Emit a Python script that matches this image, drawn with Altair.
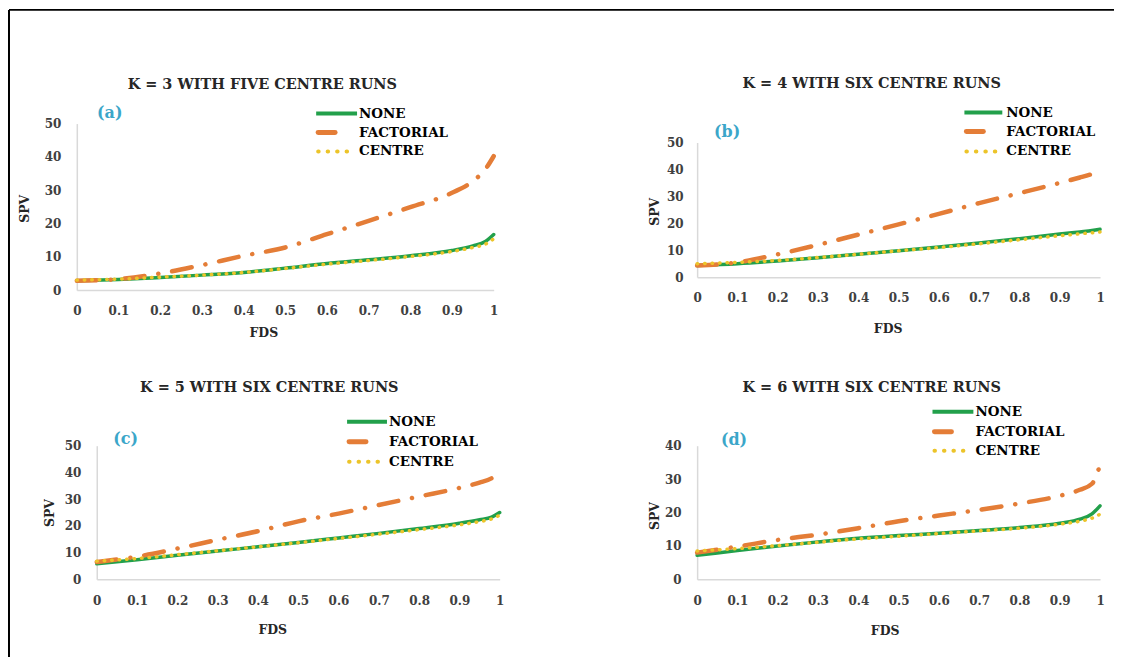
import altair as alt
import pandas as pd

# ---------------- data ----------------
FDS = [0, 0.1, 0.2, 0.3, 0.4, 0.5, 0.6, 0.7, 0.8, 0.9, 0.95, 0.98, 1.0]
X_TICKS = [0, 0.1, 0.2, 0.3, 0.4, 0.5, 0.6, 0.7, 0.8, 0.9, 1]
Y_TICKS_50 = [0, 10, 20, 30, 40, 50]
Y_TICKS_40 = [0, 10, 20, 30, 40]
SERIES = ["NONE", "FACTORIAL", "CENTRE"]
TITLES = ["K = 3 WITH FIVE CENTRE RUNS", "K = 4 WITH SIX CENTRE RUNS",
          "K = 5 WITH SIX CENTRE RUNS", "K = 6 WITH SIX CENTRE RUNS"]
PANEL_LABELS = ["(a)", "(b)", "(c)", "(d)"]

NONE_A = [2.8, 3.2, 3.8, 4.5, 5.3, 6.6, 8.0, 9.1, 10.3, 11.9, 13.3, 14.6, 16.7]
FACT_A = [2.8, 3.3, 5.0, 7.5, 10.3, 12.8, 16.8, 20.8, 24.9, 29.2, 32.7, 36.3, 40.2]
CENT_A = [3.0, 3.3, 3.9, 4.5, 5.3, 6.5, 7.8, 8.9, 10.1, 11.6, 12.8, 13.8, 15.4]

NONE_B = [4.3, 5.0, 6.0, 7.2, 8.5, 9.8, 11.2, 12.7, 14.3, 16.0, 16.8, 17.3, 17.8]
FACT_B = [4.3, 5.5, 8.5, 12.0, 15.8, 19.6, 23.5, 27.5, 31.2, 35.0, 37.0, 38.3, 39.3]
CENT_B = [5.0, 5.5, 6.2, 7.3, 8.5, 9.8, 11.0, 12.4, 13.9, 15.4, 16.1, 16.5, 16.8]

NONE_C = [5.8, 7.3, 9.0, 10.6, 12.2, 13.8, 15.5, 17.2, 19.0, 21.0, 22.3, 23.3, 25.0]
FACT_C = [6.5, 8.5, 11.5, 14.8, 18.0, 21.7, 24.6, 27.8, 31.0, 34.2, 36.2, 37.8, 40.0]
CENT_C = [6.8, 7.8, 9.2, 10.7, 12.2, 13.7, 15.3, 16.9, 18.6, 20.4, 21.6, 22.6, 24.0]

NONE_D = [7.2, 8.6, 10.0, 11.2, 12.3, 13.1, 13.8, 14.6, 15.5, 16.8, 18.0, 19.6, 22.0]
FACT_D = [8.0, 9.8, 11.8, 13.4, 15.3, 17.4, 19.1, 20.8, 22.7, 25.0, 26.8, 28.6, 34.2]
CENT_D = [8.5, 9.2, 10.1, 11.1, 12.1, 12.9, 13.7, 14.5, 15.3, 16.5, 17.4, 18.3, 19.5]

# ---------------- style ----------------
FONT = "DejaVu Serif"
GREEN = "#22A04B"
ORANGE = "#E47D37"
YELLOW = "#ECC42A"
AXIS_GRAY = "#D9D9D9"
LABEL_COLOR = "#404040"
TEXT_COLOR = "#262626"
PANEL_COLOR = "#3BA6C9"

ONE = pd.DataFrame({"k": [0]})


def hrule(x1, x2, y, **style):
    return alt.Chart(ONE).mark_rule(**style).encode(
        x=alt.value(x1), x2=alt.value(x2), y=alt.value(y))


def vrule(x, y1, y2, **style):
    return alt.Chart(ONE).mark_rule(**style).encode(
        x=alt.value(x), y=alt.value(y1), y2=alt.value(y2))


def text(txt, x, y, **style):
    return alt.Chart(ONE).mark_text(text=txt, **style).encode(
        x=alt.value(x), y=alt.value(y))


def panel(none, fact, cent, title, plabel, yticks, ymax, g):
    df = pd.DataFrame({"fds": FDS, "none": none, "factorial": fact, "centre": cent})
    xs = dict(domain=[0, 1], nice=False, zero=False)
    if "xrange" in g:
        xs["range"] = g["xrange"]
    ys = dict(domain=[0, ymax], nice=False, zero=True)
    if "yrange" in g:
        ys["range"] = g["yrange"]
    x_axis = alt.Axis(values=X_TICKS, format="~g", title="FDS", grid=False, ticks=False,
                      domainColor=AXIS_GRAY, domainWidth=1.5,
                      labelFont=FONT, labelFontWeight="bold", labelFontSize=12,
                      labelColor=LABEL_COLOR, labelPadding=g["xlabpad"], labelBaseline="middle",
                      labelFlush=False, labelOverlap=False,
                      titleFont=FONT, titleFontWeight="bold", titleFontSize=12.5,
                      titleColor=TEXT_COLOR, titleX=g["fdsx"], titleY=g["fdsy"],
                      titleAlign="center", titleBaseline="middle")
    yax = dict(values=yticks, title="SPV", grid=False, ticks=False,
               domainColor=AXIS_GRAY, domainWidth=1.5,
               labelFont=FONT, labelFontWeight="bold", labelFontSize=12,
               labelColor=LABEL_COLOR, labelPadding=g["ylabpad"],
               labelFlush=False, labelOverlap=False,
               titleFont=FONT, titleFontWeight="bold", titleFontSize=12.5,
               titleColor=TEXT_COLOR, titleX=g["spvx"], titleY=g["spvy"],
               titleAngle=270, titleAlign="center", titleBaseline="middle")
    if "yoffset" in g:
        yax["offset"] = g["yoffset"]
    y_axis = alt.Axis(**yax)

    X = alt.X("fds:Q", scale=alt.Scale(**xs), axis=x_axis)

    def Y(col):
        return alt.Y(col + ":Q", scale=alt.Scale(**ys), axis=y_axis)

    base = alt.Chart(df)
    l_none = base.mark_line(color=GREEN, strokeWidth=3.5, interpolate="monotone",
                            strokeCap="round").encode(x=X, y=Y("none"))
    l_fact = base.mark_line(color=ORANGE, strokeWidth=4.5, interpolate="monotone",
                            strokeCap="round", strokeDash=[20, 14, 0.1, 14]).encode(x=X, y=Y("factorial"))
    l_cent = base.mark_line(color=YELLOW, strokeWidth=3.5, interpolate="monotone",
                            strokeCap="round", strokeDash=[0.5, 7]).encode(x=X, y=Y("centre"))

    lx1, lx2, tx = g["leg_x1"], g["leg_x2"], g["leg_tx"]
    ly = g["leg_y"]
    legend = [
        hrule(lx1, lx2, ly[0], color=GREEN, strokeWidth=4),
        hrule(lx1 + 2, lx1 + 19, ly[1], color=ORANGE, strokeWidth=5, strokeCap="round"),
        hrule(lx1 + 2, lx2 - 2, ly[2], color=YELLOW, strokeWidth=4, strokeCap="round",
              strokeDash=[0.5, 9]),
    ]
    ltexts = [text(SERIES[i], tx, ly[i], align="left", baseline="middle", font=FONT,
                   fontWeight="bold", fontSize=13.5, color="black") for i in range(3)]
    extras = [
        text(title, g["title"][0], g["title"][1], align="center", baseline="middle", font=FONT,
             fontWeight="bold", fontSize=14.5, color=TEXT_COLOR),
        text(plabel, g["plabel"][0], g["plabel"][1], align="center", baseline="middle", font=FONT,
             fontWeight="bold", fontSize=16, color=PANEL_COLOR),
    ]
    frame = []
    if g.get("frame"):
        frame = [
            hrule(-68, 1040, -114, color="black", strokeWidth=2),
            vrule(-68, -114, 535, color="black", strokeWidth=2),
        ]
    layers = [l_none, l_fact, l_cent] + legend + ltexts + extras + frame
    return alt.layer(*layers).properties(width=g["w"], height=g["h"])


GEO_A = dict(w=418, h=167, xlabpad=20, ylabpad=16, spvx=-52, spvy=85, fdsx=187, fdsy=43,
             title=(186, -39), plabel=(33, -11), leg_x1=240, leg_x2=281, leg_tx=283,
             leg_y=[-10, 9, 28], frame=True)
GEO_B = dict(w=404, h=154, yrange=[154, 19], xlabpad=20, ylabpad=14, spvx=-43, spvy=88,
             fdsx=191, fdsy=51, title=(175, -40), plabel=(30, 8), leg_x1=268, leg_x2=306,
             leg_tx=310, leg_y=[-11, 8, 28])
GEO_C = dict(w=424, h=134, xrange=[20, 424], yoffset=-20, xlabpad=21, ylabpad=16, spvx=-47,
             spvy=67, fdsx=196, fdsy=50, title=(193, -58), plabel=(49, -7), leg_x1=271,
             leg_x2=311, leg_tx=313, leg_y=[-24, -4, 16])
GEO_D = dict(w=404, h=134, xlabpad=21, ylabpad=16, spvx=-43, spvy=70, fdsx=188, fdsy=51,
             title=(175, -58), plabel=(37, -6), leg_x1=236, leg_x2=277, leg_tx=279,
             leg_y=[-34, -14, 5])

pa = panel(NONE_A, FACT_A, CENT_A, TITLES[0], PANEL_LABELS[0], Y_TICKS_50, 50, GEO_A)
pb = panel(NONE_B, FACT_B, CENT_B, TITLES[1], PANEL_LABELS[1], Y_TICKS_50, 50, GEO_B)
pc = panel(NONE_C, FACT_C, CENT_C, TITLES[2], PANEL_LABELS[2], Y_TICKS_50, 50, GEO_C)
pd_ = panel(NONE_D, FACT_D, CENT_D, TITLES[3], PANEL_LABELS[3], Y_TICKS_40, 40, GEO_D)

chart = alt.concat(pa, pb, pc, pd_, columns=2, spacing={"row": 156, "column": 198},
                   bounds="flush", align="each").properties(
    padding=0, background="white"
).configure_view(stroke=None)

chart.save("out.html", embed_options={"renderer": "svg", "actions": False})
